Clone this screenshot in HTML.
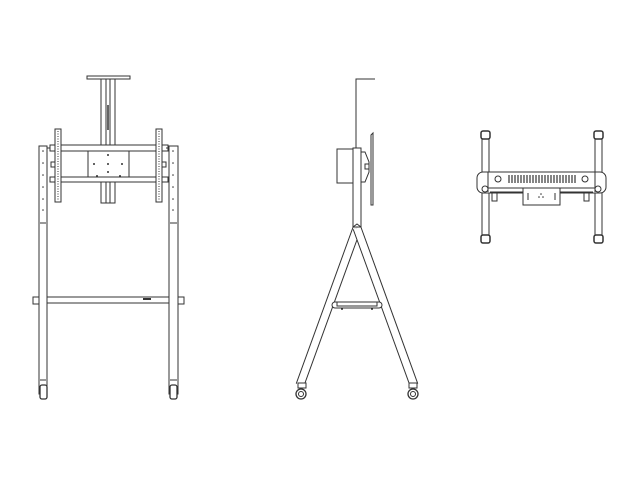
<!DOCTYPE html>
<html><head><style>html,body{margin:0;padding:0;background:#fff}svg{display:block}</style></head>
<body>
<svg width="640" height="480" viewBox="0 0 640 480" xmlns="http://www.w3.org/2000/svg" fill="none" stroke="#333" stroke-width="1">
<rect width="640" height="480" fill="#fff" stroke="none"/>
<!-- FRONT VIEW -->
<rect x="87" y="76" width="43" height="3" fill="#fff"/>
<rect x="101" y="79" width="14" height="124" fill="#fff"/>
<line x1="106" y1="79" x2="106" y2="203"/><line x1="110" y1="79" x2="110" y2="203"/>
<line x1="108" y1="105" x2="108" y2="130" stroke-width="1.5"/>
<!-- uprights -->
<rect x="39" y="146" width="8" height="248" fill="#fff"/>
<rect x="169" y="146" width="9" height="248" fill="#fff"/>
<line x1="40" y1="223" x2="46" y2="223"/><line x1="170" y1="223" x2="177" y2="223"/>
<line x1="40" y1="380" x2="46" y2="380"/><line x1="170" y1="380" x2="177" y2="380"/>
<g fill="#333" stroke="none">
<circle cx="43" cy="151" r="0.8"/><circle cx="43" cy="163" r="0.8"/><circle cx="43" cy="175" r="0.8"/><circle cx="43" cy="187" r="0.8"/><circle cx="43" cy="199" r="0.8"/><circle cx="43" cy="210" r="0.8"/>
<circle cx="173" cy="151" r="0.8"/><circle cx="173" cy="163" r="0.8"/><circle cx="173" cy="175" r="0.8"/><circle cx="173" cy="187" r="0.8"/><circle cx="173" cy="199" r="0.8"/><circle cx="173" cy="210" r="0.8"/>
</g>
<!-- rails -->
<rect x="50" y="145" width="118" height="6" fill="#fff"/>
<rect x="50" y="177" width="118" height="5" fill="#fff"/>
<line x1="47" y1="148" x2="50" y2="148"/><line x1="166" y1="148" x2="169" y2="148"/>
<rect x="88" y="151" width="41" height="26" fill="#fff"/>
<g fill="#333" stroke="none">
<circle cx="108" cy="155" r="1"/><circle cx="108" cy="164" r="1"/><circle cx="108" cy="172" r="1"/><circle cx="94" cy="164" r="1"/><circle cx="122" cy="164" r="1"/><circle cx="97" cy="176" r="1"/><circle cx="120" cy="176" r="1"/></g>
<rect x="55" y="129" width="6" height="73" fill="#fff"/>
<rect x="156" y="129" width="6" height="73" fill="#fff"/>
<line x1="58" y1="131" x2="58" y2="200" stroke-dasharray="1 1.5"/>
<line x1="159" y1="131" x2="159" y2="200" stroke-dasharray="1 1.5"/>
<rect x="51" y="162" width="4" height="5"/><rect x="162" y="162" width="4" height="5"/>
<!-- crossbar -->
<rect x="33" y="297" width="6" height="7" fill="#fff"/>
<rect x="178" y="297" width="6" height="7" fill="#fff"/>
<rect x="47" y="297" width="122" height="6" fill="#fff"/>
<rect x="143" y="298" width="8" height="2" fill="#333" stroke="none"/>
<!-- casters -->
<rect x="40" y="385" width="7" height="14" rx="2" fill="#fff" stroke-width="1.3"/>
<rect x="170" y="385" width="7" height="14" rx="2" fill="#fff" stroke-width="1.3"/>
<!-- SIDE VIEW -->
<polyline points="356,148 356,79 375,79"/>
<line x1="300" y1="385" x2="357" y2="228" stroke="#333" stroke-width="9"/>
<line x1="300" y1="385" x2="357" y2="228" stroke="#fff" stroke-width="7"/>
<line x1="414" y1="385" x2="357" y2="228" stroke="#333" stroke-width="9"/>
<line x1="414" y1="385" x2="357" y2="228" stroke="#fff" stroke-width="7"/>
<rect x="353" y="148" width="8" height="79" fill="#fff"/>
<polyline points="353,227 357,224 361,227"/>
<rect x="337" y="149" width="16" height="34" fill="#fff"/>
<polygon points="371,135 373,133 373,205 371,205" fill="#fff"/>
<polyline points="361,152 365,152 369,162 369,172 365,182 361,182"/>
<rect x="365" y="164" width="4" height="5"/>
<rect x="332" y="302" width="50" height="6" rx="3" fill="#fff"/>
<rect x="337" y="302" width="40" height="4"/>
<line x1="341" y1="309" x2="343" y2="309" stroke-width="1.5"/><line x1="371" y1="309" x2="373" y2="309" stroke-width="1.5"/>
<rect x="298" y="383" width="8" height="5" fill="#fff"/>
<rect x="409" y="383" width="8" height="5" fill="#fff"/>
<circle cx="301" cy="394" r="5" fill="#fff" stroke-width="1.3"/><circle cx="301" cy="394" r="2.5"/>
<circle cx="413" cy="394" r="5" fill="#fff" stroke-width="1.3"/><circle cx="413" cy="394" r="2.5"/>
<!-- TOP VIEW -->
<rect x="482" y="134" width="7" height="106" rx="3" fill="#fff"/>
<rect x="595" y="134" width="7" height="106" rx="3" fill="#fff"/>
<rect x="481" y="131" width="9" height="8" rx="2" fill="#fff" stroke-width="1.5"/>
<rect x="594" y="131" width="9" height="8" rx="2" fill="#fff" stroke-width="1.5"/>
<rect x="481" y="235" width="9" height="8" rx="2" fill="#fff" stroke-width="1.5"/>
<rect x="594" y="235" width="9" height="8" rx="2" fill="#fff" stroke-width="1.5"/>
<rect x="477" y="172" width="129" height="21" rx="6" fill="#fff"/>
<line x1="488" y1="172" x2="488" y2="192"/><line x1="595" y1="172" x2="595" y2="192"/>
<line x1="486" y1="188" x2="597" y2="188"/>
<line x1="490" y1="192" x2="593" y2="192"/>
<circle cx="498" cy="179" r="3"/><circle cx="585" cy="179" r="3"/>
<g stroke-width="1.2">
<line x1="509" y1="175" x2="509" y2="183"/><line x1="512" y1="175" x2="512" y2="183"/><line x1="515" y1="175" x2="515" y2="183"/><line x1="518" y1="175" x2="518" y2="183"/><line x1="521" y1="175" x2="521" y2="183"/><line x1="524" y1="175" x2="524" y2="183"/><line x1="527" y1="175" x2="527" y2="183"/><line x1="530" y1="175" x2="530" y2="183"/><line x1="533" y1="175" x2="533" y2="183"/><line x1="536" y1="175" x2="536" y2="183"/><line x1="539" y1="175" x2="539" y2="183"/><line x1="542" y1="175" x2="542" y2="183"/><line x1="545" y1="175" x2="545" y2="183"/><line x1="548" y1="175" x2="548" y2="183"/><line x1="551" y1="175" x2="551" y2="183"/><line x1="554" y1="175" x2="554" y2="183"/><line x1="557" y1="175" x2="557" y2="183"/><line x1="560" y1="175" x2="560" y2="183"/><line x1="563" y1="175" x2="563" y2="183"/><line x1="566" y1="175" x2="566" y2="183"/><line x1="569" y1="175" x2="569" y2="183"/><line x1="572" y1="175" x2="572" y2="183"/><line x1="575" y1="175" x2="575" y2="183"/>
</g>
<circle cx="485" cy="189" r="3" fill="#fff"/><circle cx="598" cy="189" r="3" fill="#fff"/>
<rect x="523" y="188" width="37" height="17" fill="#fff"/>
<line x1="528" y1="193" x2="528" y2="200"/><line x1="555" y1="193" x2="555" y2="200"/>
<g fill="#333" stroke="none"><circle cx="541" cy="194" r="0.8"/><circle cx="539" cy="197" r="0.8"/><circle cx="543" cy="197" r="0.8"/></g>
<rect x="492" y="193" width="5" height="8"/><rect x="584" y="193" width="5" height="8"/>
</svg>
</body></html>
